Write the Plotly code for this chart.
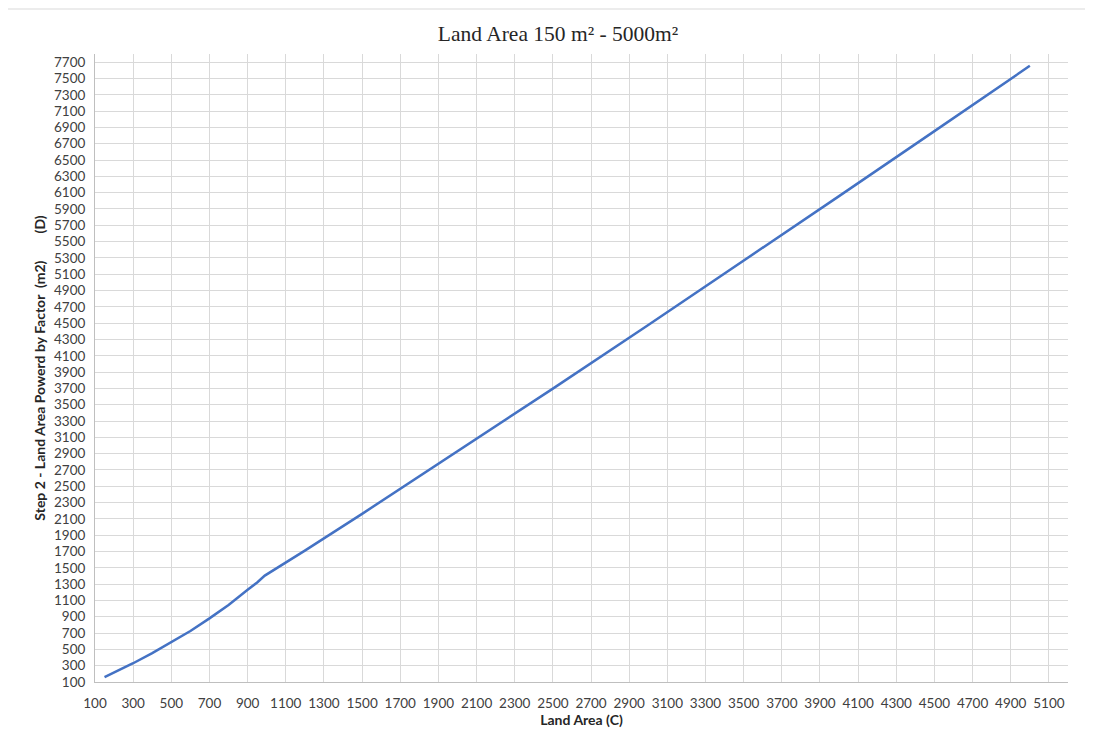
import plotly.graph_objects as go

# Data
land_area = [150, 200, 300, 400, 500, 600, 700, 800, 900, 950, 990,
             1100, 1200, 1500, 2000, 2500, 3000, 3500, 4000, 4500, 5000]
powered_area = [160, 215, 330, 455, 585, 725, 880, 1045, 1230, 1320, 1405,
                1561, 1711, 2162, 2925, 3697, 4477, 5264, 6057, 6854, 7655]

x_ticks = list(range(100, 5101, 200))
y_ticks = list(range(100, 7701, 200))

fig = go.Figure()
fig.add_trace(go.Scatter(
    x=land_area, y=powered_area, mode="lines",
    line=dict(color="#4472C4", width=2.5, shape="linear"),
    showlegend=False,
))

tick_font = dict(family="Lato, Liberation Sans, sans-serif", size=13.5, color="#404040")
title_font = dict(family="Lato, Liberation Sans, sans-serif", size=14, color="#262626")

# page body has an 8px margin, so the figure is sized to fill the 1093x736 window
W, H = 1077, 720
L, T = 87, 46
PW, PH = 973, 628

fig.update_layout(
    width=W, height=H,
    margin=dict(l=L, r=W - L - PW, t=T, b=H - T - PH, autoexpand=False),
    paper_bgcolor="white", plot_bgcolor="white",
    title=dict(text="Land Area 150 m² - 5000m²", x=(558 - 8) / W, xanchor="center",
               y=1 - (33 - 8) / H, yanchor="middle",
               font=dict(family="Liberation Serif, Times New Roman, serif", size=21.5, color="#262626")),
    xaxis=dict(range=[100, 5200], tickvals=x_ticks, ticktext=[str(v) for v in x_ticks],
               showgrid=True, gridcolor="#d9d9d9", gridwidth=1,
               showline=True, linecolor="#bfbfbf", linewidth=1, automargin=False,
               ticks="", tickfont=tick_font, zeroline=False, ticklabelstandoff=9,
               title=dict(text="<b>Land Area (C)</b>", font=title_font, standoff=12)),
    yaxis=dict(range=[100, 7800], tickvals=y_ticks, ticktext=[str(v) for v in y_ticks],
               showgrid=True, gridcolor="#d9d9d9", gridwidth=1,
               showline=True, linecolor="#bfbfbf", linewidth=1, automargin=False,
               ticks="", tickfont=tick_font, zeroline=False, ticklabelstandoff=6,
               title=dict(text="<b>Step 2 - Land Area Powerd by Factor  (m2)        (D)</b>",
                          font=title_font, standoff=5)),
)

# light outer chart border (bottom edge falls outside the visible page)
fig.add_shape(type="rect", xref="paper", yref="paper",
              x0=(6 - 8 - L) / PW, x1=(1092 - 8 - L) / PW,
              y0=-(H - T - PH + 10) / PH, y1=1 + (T - 1) / PH,
              line=dict(color="#d9d9d9", width=1), fillcolor="rgba(0,0,0,0)", layer="below")

fig.write_html("out.html")
